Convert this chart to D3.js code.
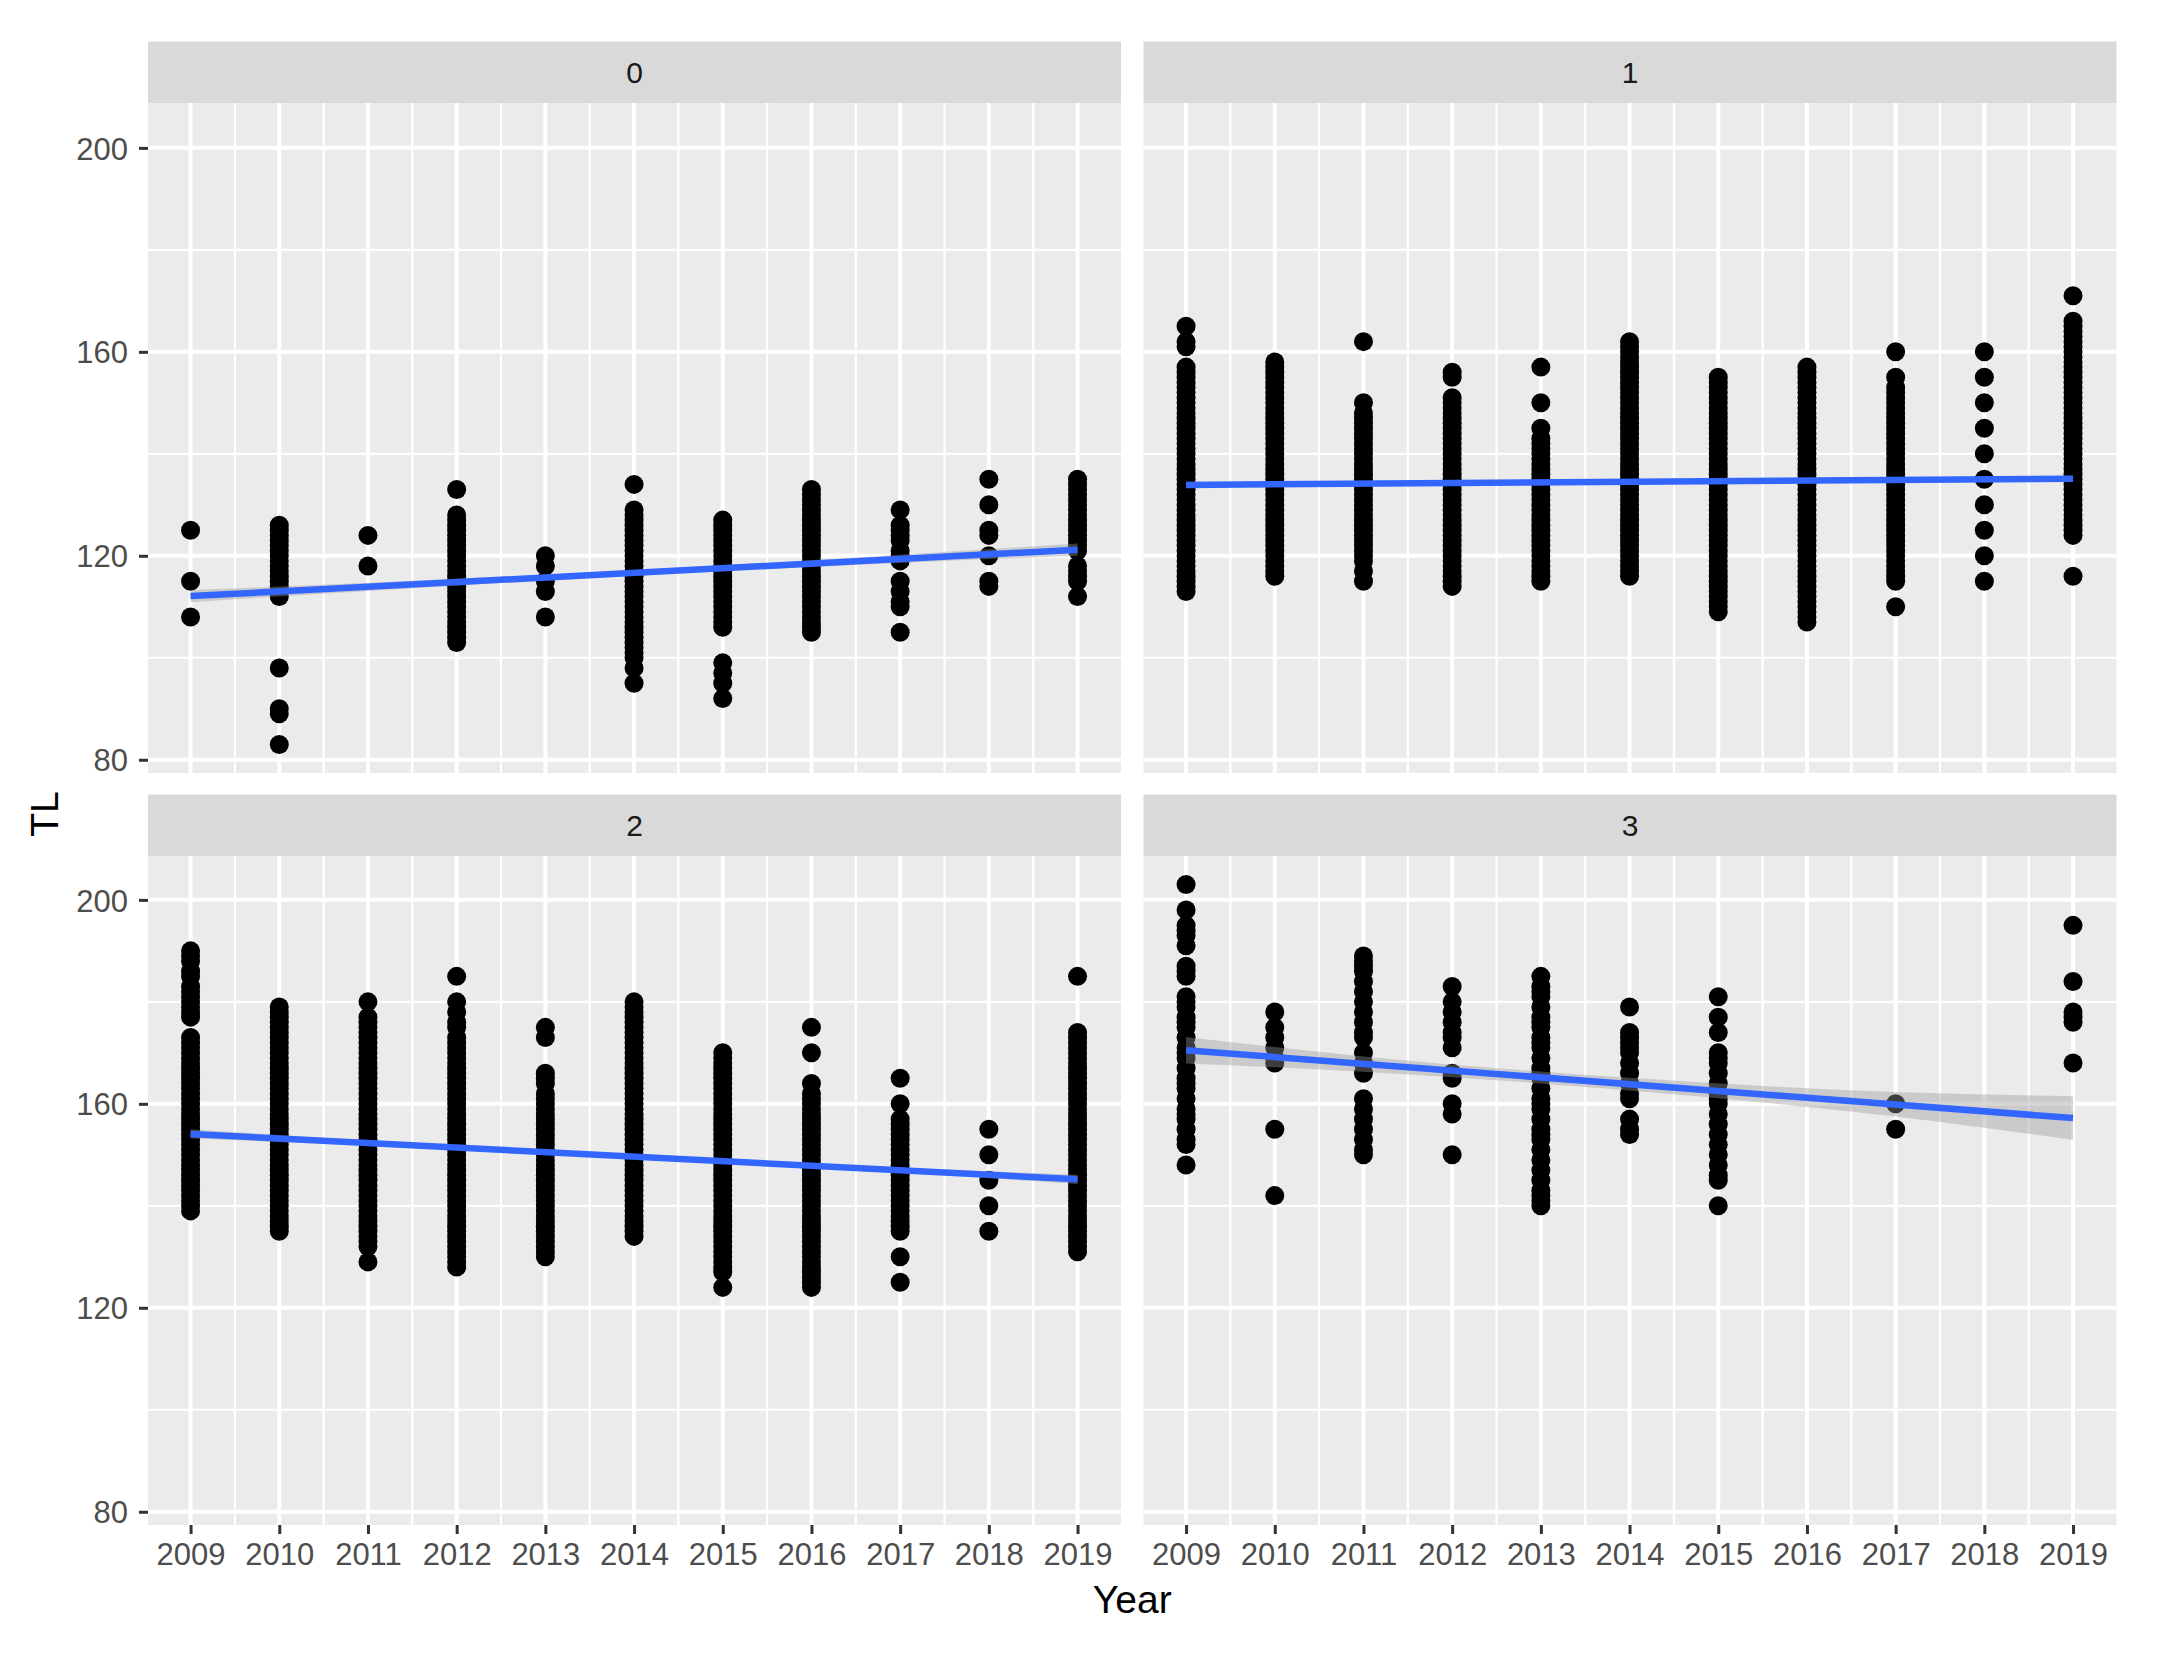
<!DOCTYPE html>
<html>
<head>
<meta charset="utf-8">
<script src="https://cdn.jsdelivr.net/npm/d3@7/dist/d3.min.js"></script>
<style>
  html, body { margin: 0; padding: 0; background: #ffffff; }
  svg { display: block; }
  text { font-family: "Liberation Sans", Arial, Helvetica, sans-serif; }
</style>
</head>
<body>
<svg id="chart" width="2159" height="1658"></svg>
<script>
// ---------------- DATA ----------------
const years = [2009, 2010, 2011, 2012, 2013, 2014, 2015, 2016, 2017, 2018, 2019];
const panelLabels = ["0", "1", "2", "3"];
const yTicks = [80, 120, 160, 200];
const yMinor = [100, 140, 180];
const xTickLabels = ["2009","2010","2011","2012","2013","2014","2015","2016","2017","2018","2019"];

// TL values observed per year, group 0
const tl0 = {
  2009: [125, 115, 108],
  2010: [126, 125, 124, 123, 122, 121, 120, 119, 118, 117, 116, 115, 114, 113, 112, 98, 90, 89, 83],
  2011: [124, 118],
  2012: [133, 128, 127, 126, 125, 124, 123, 122, 121, 120, 119, 118, 117, 116, 115, 114, 113, 112, 111, 110, 109, 108, 107, 106, 105, 104, 103],
  2013: [120, 118, 115, 113, 108],
  2014: [134, 129, 128, 127, 126, 125, 124, 123, 122, 121, 120, 119, 118, 117, 116, 115, 114, 113, 112, 111, 110, 109, 108, 107, 106, 105, 104, 103, 102, 101, 100, 98, 95],
  2015: [127, 126, 125, 124, 123, 122, 121, 120, 119, 118, 117, 116, 115, 114, 113, 112, 111, 110, 109, 108, 107, 106, 99, 97, 95, 92],
  2016: [133, 132, 131, 130, 129, 128, 127, 126, 125, 124, 123, 122, 121, 120, 119, 118, 117, 116, 115, 114, 113, 112, 111, 110, 109, 108, 107, 106, 105],
  2017: [129, 126, 125, 124, 123, 121, 120, 119, 115, 113, 111, 110, 105],
  2018: [135, 130, 125, 124, 120, 115, 114],
  2019: [135, 134, 133, 132, 131, 130, 129, 128, 127, 126, 125, 124, 123, 122, 121, 118, 117, 116, 115, 112]
};
// group 1
const tl1 = {
  2009: [165, 162, 161, 157, 156, 155, 154, 153, 152, 151, 150, 149, 148, 147, 146, 145, 144, 143, 142, 141, 140, 139, 138, 137, 136, 135, 134, 133, 132, 131, 130, 129, 128, 127, 126, 125, 124, 123, 122, 121, 120, 119, 118, 117, 116, 115, 114, 113],
  2010: [158, 157, 156, 155, 154, 153, 152, 151, 150, 149, 148, 147, 146, 145, 144, 143, 142, 141, 140, 139, 138, 137, 136, 135, 134, 133, 132, 131, 130, 129, 128, 127, 126, 125, 124, 123, 122, 121, 120, 119, 118, 117, 116],
  2011: [162, 150, 148, 147, 146, 145, 144, 143, 142, 141, 140, 139, 138, 137, 136, 135, 134, 133, 132, 131, 130, 129, 128, 127, 126, 125, 124, 123, 122, 121, 120, 119, 117, 115],
  2012: [156, 155, 151, 150, 149, 148, 147, 146, 145, 144, 143, 142, 141, 140, 139, 138, 137, 136, 135, 134, 133, 132, 131, 130, 129, 128, 127, 126, 125, 124, 123, 122, 121, 120, 119, 118, 117, 116, 115, 114],
  2013: [157, 150, 145, 143, 142, 141, 140, 139, 138, 137, 136, 135, 134, 133, 132, 131, 130, 129, 128, 127, 126, 125, 124, 123, 122, 121, 120, 119, 118, 117, 116, 115],
  2014: [162, 161, 160, 159, 158, 157, 156, 155, 154, 153, 152, 151, 150, 149, 148, 147, 146, 145, 144, 143, 142, 141, 140, 139, 138, 137, 136, 135, 134, 133, 132, 131, 130, 129, 128, 127, 126, 125, 124, 123, 122, 121, 120, 119, 118, 117, 116],
  2015: [155, 154, 153, 152, 151, 150, 149, 148, 147, 146, 145, 144, 143, 142, 141, 140, 139, 138, 137, 136, 135, 134, 133, 132, 131, 130, 129, 128, 127, 126, 125, 124, 123, 122, 121, 120, 119, 118, 117, 116, 115, 114, 113, 112, 111, 110, 109],
  2016: [157, 156, 155, 154, 153, 152, 151, 150, 149, 148, 147, 146, 145, 144, 143, 142, 141, 140, 139, 138, 137, 136, 135, 134, 133, 132, 131, 130, 129, 128, 127, 126, 125, 124, 123, 122, 121, 120, 119, 118, 117, 116, 115, 114, 113, 112, 111, 110, 109, 108, 107],
  2017: [160, 155, 153, 152, 151, 150, 149, 148, 147, 146, 145, 144, 143, 142, 141, 140, 139, 138, 137, 136, 135, 134, 133, 132, 131, 130, 129, 128, 127, 126, 125, 124, 123, 122, 121, 120, 119, 118, 117, 116, 115, 110],
  2018: [160, 155, 150, 145, 140, 135, 130, 125, 120, 115],
  2019: [171, 166, 165, 164, 163, 162, 161, 160, 159, 158, 157, 156, 155, 154, 153, 152, 151, 150, 149, 148, 147, 146, 145, 144, 143, 142, 141, 140, 139, 138, 137, 136, 135, 134, 133, 132, 131, 130, 129, 128, 127, 126, 125, 124, 116]
};
// group 2
const tl2 = {
  2009: [190, 189, 188, 186, 185, 183, 182, 181, 180, 179, 178, 177, 173, 172, 171, 170, 169, 168, 167, 166, 165, 164, 163, 162, 161, 160, 159, 158, 157, 156, 155, 154, 153, 152, 151, 150, 149, 148, 147, 146, 145, 144, 143, 142, 141, 140, 139],
  2010: [179, 178, 177, 176, 175, 174, 173, 172, 171, 170, 169, 168, 167, 166, 165, 164, 163, 162, 161, 160, 159, 158, 157, 156, 155, 154, 153, 152, 151, 150, 149, 148, 147, 146, 145, 144, 143, 142, 141, 140, 139, 138, 137, 136, 135],
  2011: [180, 177, 176, 175, 174, 173, 172, 171, 170, 169, 168, 167, 166, 165, 164, 163, 162, 161, 160, 159, 158, 157, 156, 155, 154, 153, 152, 151, 150, 149, 148, 147, 146, 145, 144, 143, 142, 141, 140, 139, 138, 137, 136, 135, 134, 133, 132, 129],
  2012: [185, 180, 178, 176, 175, 173, 172, 171, 170, 169, 168, 167, 166, 165, 164, 163, 162, 161, 160, 159, 158, 157, 156, 155, 154, 153, 152, 151, 150, 149, 148, 147, 146, 145, 144, 143, 142, 141, 140, 139, 138, 137, 136, 135, 134, 133, 132, 131, 130, 129, 128],
  2013: [175, 173, 166, 165, 164, 162, 161, 160, 159, 158, 157, 156, 155, 154, 153, 152, 151, 150, 149, 148, 147, 146, 145, 144, 143, 142, 141, 140, 139, 138, 137, 136, 135, 134, 133, 132, 131, 130],
  2014: [180, 179, 178, 177, 176, 175, 174, 173, 172, 171, 170, 169, 168, 167, 166, 165, 164, 163, 162, 161, 160, 159, 158, 157, 156, 155, 154, 153, 152, 151, 150, 149, 148, 147, 146, 145, 144, 143, 142, 141, 140, 139, 138, 137, 136, 135, 134],
  2015: [170, 169, 168, 167, 166, 165, 164, 163, 162, 161, 160, 159, 158, 157, 156, 155, 154, 153, 152, 151, 150, 149, 148, 147, 146, 145, 144, 143, 142, 141, 140, 139, 138, 137, 136, 135, 134, 133, 132, 131, 130, 129, 128, 127, 124],
  2016: [175, 170, 164, 162, 161, 160, 159, 158, 157, 156, 155, 154, 153, 152, 151, 150, 149, 148, 147, 146, 145, 144, 143, 142, 141, 140, 139, 138, 137, 136, 135, 134, 133, 132, 131, 130, 129, 128, 127, 126, 125, 124],
  2017: [165, 160, 157, 156, 155, 154, 153, 152, 151, 150, 149, 148, 147, 146, 145, 144, 143, 142, 141, 140, 139, 138, 137, 136, 135, 130, 125],
  2018: [155, 150, 145, 140, 135],
  2019: [185, 174, 173, 172, 171, 170, 169, 168, 167, 166, 165, 164, 163, 162, 161, 160, 159, 158, 157, 156, 155, 154, 153, 152, 151, 150, 149, 148, 147, 146, 145, 144, 143, 142, 141, 140, 139, 138, 137, 136, 135, 134, 133, 132, 131]
};
// group 3
const tl3 = {
  2009: [203, 198, 195, 194, 193, 191, 187, 186, 185, 181, 180, 179, 177, 176, 175, 173, 171, 170, 169, 167, 165, 164, 163, 161, 159, 158, 157, 155, 153, 152, 148],
  2010: [178, 175, 173, 171, 169, 168, 155, 142],
  2011: [189, 188, 187, 186, 184, 182, 180, 178, 176, 174, 173, 170, 168, 166, 161, 159, 157, 155, 153, 151, 150],
  2012: [183, 180, 178, 176, 174, 173, 171, 166, 165, 160, 158, 150],
  2013: [185, 183, 182, 181, 179, 177, 176, 175, 173, 172, 171, 169, 167, 166, 165, 163, 161, 160, 159, 157, 155, 154, 153, 151, 149, 147, 145, 143, 142, 141, 140],
  2014: [179, 174, 173, 172, 171, 170, 168, 166, 164, 162, 161, 157, 155, 154],
  2015: [181, 177, 174, 170, 169, 168, 166, 164, 162, 161, 160, 158, 156, 154, 152, 150, 148, 146, 145, 140],
  2017: [160, 155],
  2019: [195, 184, 178, 177, 176, 168]
};

// linear fit (geom_smooth, method = "lm"): value at 2009 and at 2019
const fitYears = [2009, 2019];
const fit0 = [112.1, 121.2];
const fit1 = [133.9, 135.1];
const fit2 = [154.1, 145.2];
const fit3 = [170.5, 157.2];

// confidence band (lower / upper) read at these years
const bandYears = [2009, 2011, 2014, 2017, 2019];
const band0Lo = [110.9, 113.1, 116.1, 118.6, 120.0];
const band0Hi = [113.3, 114.7, 117.2, 120.2, 122.4];
const band1Lo = [133.3, 133.8, 134.2, 134.6, 134.5];
const band1Hi = [134.5, 134.6, 134.9, 135.3, 135.7];
const band2Lo = [153.2, 151.8, 149.25, 146.5, 144.3];
const band2Hi = [155.0, 152.8, 150.05, 147.5, 146.1];
const band3Lo = [167.9, 166.3, 162.6, 157.5, 152.9];
const band3Hi = [173.1, 169.3, 165.1, 162.3, 161.5];

const groups = [tl0, tl1, tl2, tl3];
const fits = [fit0, fit1, fit2, fit3];
const bandsLo = [band0Lo, band1Lo, band2Lo, band3Lo];
const bandsHi = [band0Hi, band1Hi, band2Hi, band3Hi];

// ---------------- LAYOUT ----------------
const svg = d3.select("#chart");
const panelW = 973, panelH = 670;
const colX = [148, 1143.5];
const stripTop = [41.5, 794.5];
const stripH = 61.5;
const panelTop = [103, 855];

const x = d3.scaleLinear().domain([2008.52, 2019.49]).range([0, panelW]);
const y = d3.scaleLinear().domain([77.4, 208.8]).range([panelH, 0]);

const xMinor = d3.range(0, years.length - 1).map(i => (years[i] + years[i + 1]) / 2);

panelLabels.forEach((lab, i) => {
  const col = i % 2, row = Math.floor(i / 2);
  const g = svg.append("g").attr("transform", `translate(${colX[col]},${panelTop[row]})`);

  // strip
  svg.append("rect")
    .attr("x", colX[col]).attr("y", stripTop[row])
    .attr("width", panelW).attr("height", stripH)
    .attr("fill", "#d9d9d9");
  svg.append("text")
    .attr("x", colX[col] + panelW / 2).attr("y", stripTop[row] + stripH / 2 + 11)
    .attr("text-anchor", "middle")
    .attr("font-size", 30).attr("fill", "#1a1a1a")
    .text(lab);

  // panel background
  g.append("rect").attr("width", panelW).attr("height", panelH).attr("fill", "#ebebeb");

  // minor grid
  g.selectAll(".ymin").data(yMinor).enter().append("line")
    .attr("x1", 0).attr("x2", panelW)
    .attr("y1", d => y(d)).attr("y2", d => y(d))
    .attr("stroke", "#ffffff").attr("stroke-width", 2.2);
  g.selectAll(".xmin").data(xMinor).enter().append("line")
    .attr("y1", 0).attr("y2", panelH)
    .attr("x1", d => x(d)).attr("x2", d => x(d))
    .attr("stroke", "#ffffff").attr("stroke-width", 2.2);
  // major grid
  g.selectAll(".ymaj").data(yTicks).enter().append("line")
    .attr("x1", 0).attr("x2", panelW)
    .attr("y1", d => y(d)).attr("y2", d => y(d))
    .attr("stroke", "#ffffff").attr("stroke-width", 4);
  g.selectAll(".xmaj").data(years).enter().append("line")
    .attr("y1", 0).attr("y2", panelH)
    .attr("x1", d => x(d)).attr("x2", d => x(d))
    .attr("stroke", "#ffffff").attr("stroke-width", 4);

  // points
  const data = groups[i];
  const pts = [];
  Object.keys(data).forEach(yr => data[yr].forEach(v => pts.push({ yr: +yr, v })));
  g.selectAll(".pt").data(pts).enter().append("circle")
    .attr("cx", d => x(d.yr)).attr("cy", d => y(d.v))
    .attr("r", 9.5).attr("fill", "#000000");

  // confidence band
  const bandData = bandYears.map((yr, k) => ({ yr, lo: bandsLo[i][k], hi: bandsHi[i][k] }));
  const area = d3.area()
    .x(d => x(d.yr)).y0(d => y(d.lo)).y1(d => y(d.hi))
    .curve(d3.curveMonotoneX);
  g.append("path").datum(bandData).attr("d", area)
    .attr("fill", "#999999").attr("fill-opacity", 0.4);

  // fit line
  const lineData = fitYears.map((yr, k) => ({ yr, v: fits[i][k] }));
  g.append("path").datum(lineData)
    .attr("d", d3.line().x(d => x(d.yr)).y(d => y(d.v)))
    .attr("stroke", "#3366ff").attr("stroke-width", 6.5).attr("fill", "none");

  // y axis (left column only)
  if (col === 0) {
    const ya = g.append("g").call(d3.axisLeft(y).tickValues(yTicks).tickSize(9).tickPadding(11));
    ya.select(".domain").remove();
    ya.selectAll(".tick line").attr("stroke", "#333333").attr("stroke-width", 3);
    ya.selectAll(".tick text")
      .attr("font-size", 31).attr("fill", "#4d4d4d")
      .attr("font-family", "Liberation Sans, Arial, sans-serif")
      .attr("dy", "0.36em");
  }
  // x axis (bottom row only)
  if (row === 1) {
    const xa = g.append("g").attr("transform", `translate(0,${panelH})`)
      .call(d3.axisBottom(x).tickValues(years).tickFormat((d, k) => xTickLabels[k]).tickSize(9).tickPadding(9));
    xa.select(".domain").remove();
    xa.selectAll(".tick line").attr("stroke", "#333333").attr("stroke-width", 3);
    xa.selectAll(".tick text")
      .attr("font-size", 31).attr("fill", "#4d4d4d")
      .attr("font-family", "Liberation Sans, Arial, sans-serif");
  }
});

// axis titles
svg.append("text")
  .attr("x", (colX[0] + colX[1] + panelW) / 2).attr("y", 1613)
  .attr("text-anchor", "middle").attr("font-size", 39).attr("fill", "#000000")
  .text("Year");
svg.append("text")
  .attr("transform", `translate(58,${(panelTop[0] + panelTop[1] + panelH) / 2}) rotate(-90)`)
  .attr("text-anchor", "middle").attr("font-size", 39).attr("fill", "#000000")
  .text("TL");
</script>
</body>
</html>
